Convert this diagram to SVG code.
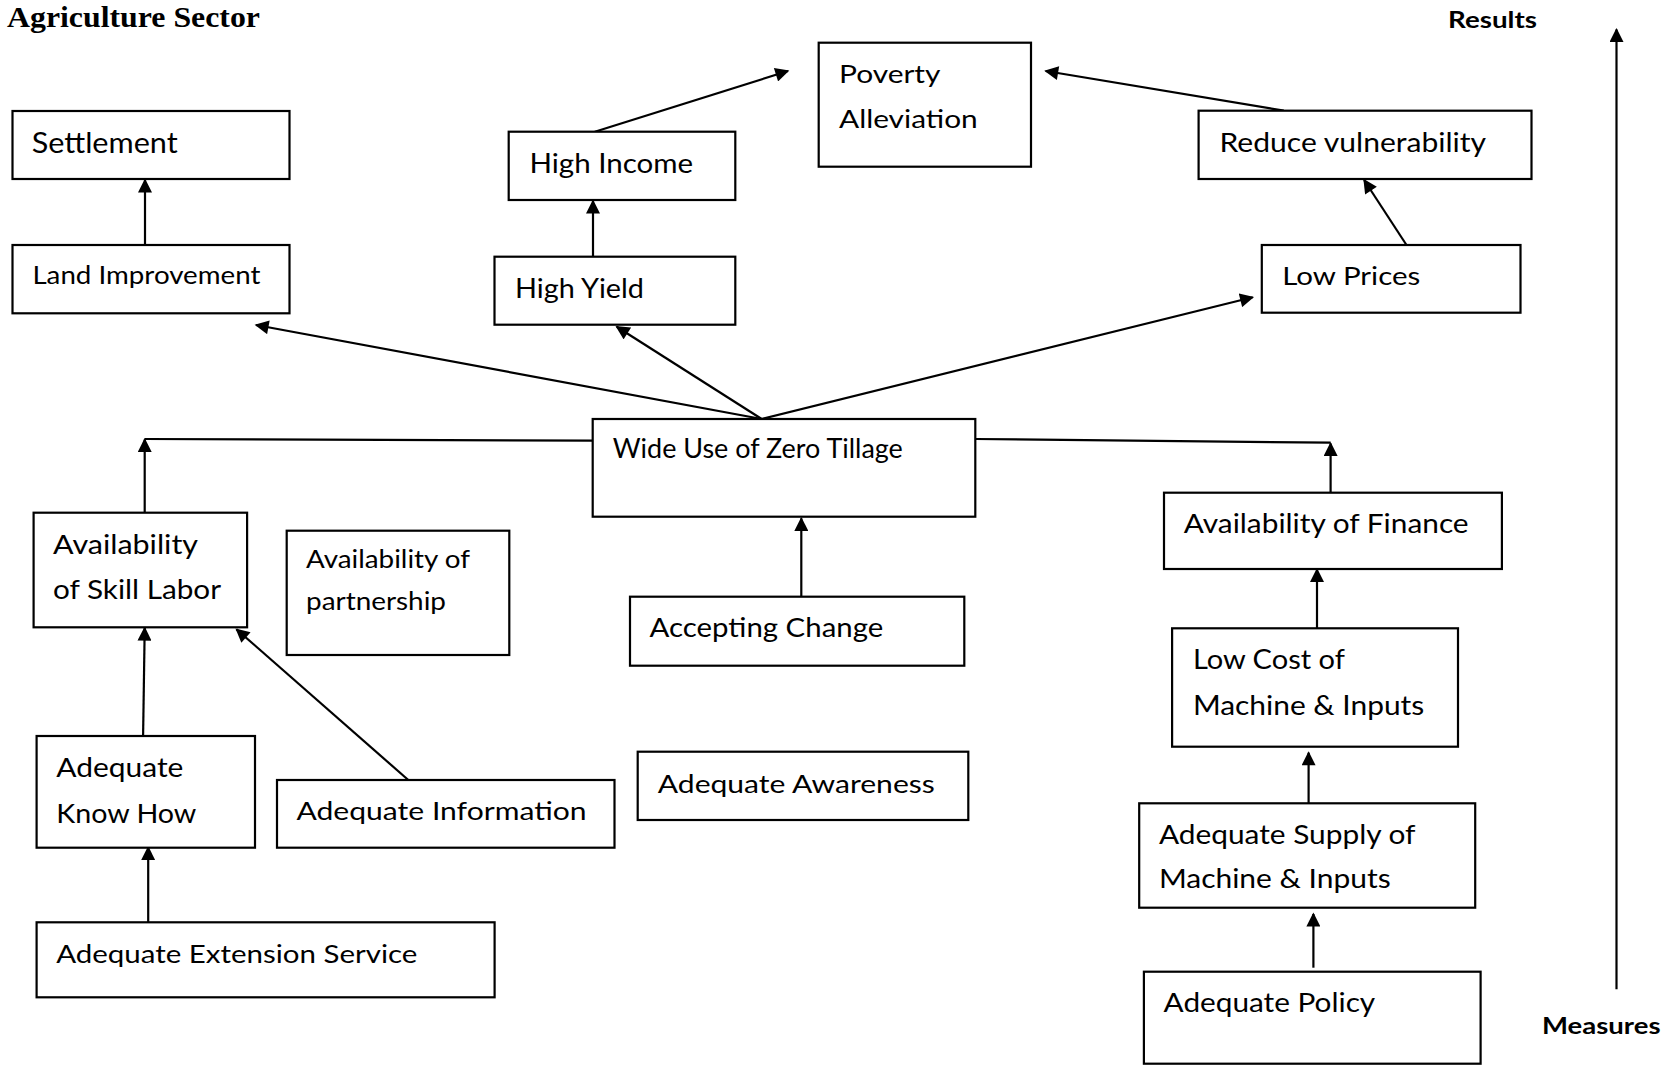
<svg xmlns="http://www.w3.org/2000/svg" width="1674" height="1065" viewBox="0 0 1674 1065">
  <style>
    .box { fill: #ffffff; stroke: #000000; stroke-width: 2.2; }
    .lbl { font-family: Lato, "Open Sans", "Liberation Sans", sans-serif; fill: #000000; }
    .axis { font-family: Lato, "Liberation Sans", sans-serif; font-weight: 700; font-size: 23px; fill: #000000; }
    .title { font-family: "Liberation Serif", "Times New Roman", serif; font-weight: 700; font-size: 29.5px; fill: #000000; }
    .link { fill: none; stroke: #000000; stroke-width: 2.2; }
    .arrow { marker-end: url(#head); }
  </style>
  <defs>
    <marker id="head" markerUnits="userSpaceOnUse" viewBox="0 0 10 10" refX="9" refY="5" markerWidth="15" markerHeight="14" orient="auto">
      <path d="M0,0 L10,5 L0,10 z" fill="#000000"/>
    </marker>
  </defs>
  <rect width="1674" height="1065" fill="#ffffff"/>

  <text class="title" x="7" y="27" textLength="253" lengthAdjust="spacingAndGlyphs">Agriculture Sector</text>
  <text class="axis" x="1448" y="28.3" textLength="89" lengthAdjust="spacingAndGlyphs">Results</text>
  <text class="axis" x="1542" y="1034" textLength="118.5" lengthAdjust="spacingAndGlyphs">Measures</text>

  <!-- connectors -->
  <g id="connectors">
    <!-- results / measures axis -->
    <line class="link arrow" x1="1616.5" y1="989.3" x2="1616.5" y2="29.5"/>
    <!-- top tier -->
    <line class="link arrow" x1="145" y1="245" x2="145" y2="180"/>
    <line class="link arrow" x1="593" y1="256.7" x2="593" y2="201"/>
    <line class="link arrow" x1="594.8" y1="131.7" x2="788" y2="71"/>
    <line class="link arrow" x1="1283.8" y1="110.7" x2="1045.6" y2="71"/>
    <line class="link arrow" x1="1406.5" y1="245" x2="1364.1" y2="180"/>
    <!-- fan out of Wide Use of Zero Tillage -->
    <line class="link arrow" x1="761.7" y1="419" x2="256" y2="325"/>
    <line class="link arrow" x1="761.7" y1="419" x2="616.7" y2="326.7"/>
    <line class="link arrow" x1="761.7" y1="419" x2="1252.7" y2="297.3"/>
    <!-- side branches -->
    <polyline class="link" points="592.7,440.7 144.7,439"/>
    <line class="link arrow" x1="144.7" y1="512.7" x2="144.7" y2="439.5"/>
    <polyline class="link" points="975.3,439 1330.6,442.7"/>
    <line class="link arrow" x1="1330.6" y1="492.7" x2="1330.6" y2="443.5"/>
    <line class="link arrow" x1="801.3" y1="596.7" x2="801.3" y2="518.3"/>
    <!-- left column -->
    <line class="link arrow" x1="143.1" y1="736" x2="144.7" y2="628"/>
    <line class="link arrow" x1="408.3" y1="780" x2="236.5" y2="629.3"/>
    <line class="link arrow" x1="148.2" y1="922.3" x2="148.2" y2="847.5"/>
    <!-- right column -->
    <line class="link arrow" x1="1317" y1="628.3" x2="1317" y2="569.5"/>
    <line class="link arrow" x1="1308.6" y1="803.3" x2="1308.6" y2="752.7"/>
    <line class="link arrow" x1="1313.4" y1="967.7" x2="1313.4" y2="914"/>
  </g>

  <g id="settlement">
    <rect class="box" x="12.5" y="111" width="277" height="68"/>
    <text class="lbl" x="31.7" y="153" font-size="29.3" textLength="146" lengthAdjust="spacingAndGlyphs">Settlement</text>
  </g>
  <g id="land-improvement">
    <rect class="box" x="12.5" y="245" width="277" height="68.3"/>
    <text class="lbl" x="32.4" y="284" font-size="24.2" textLength="228" lengthAdjust="spacingAndGlyphs">Land Improvement</text>
  </g>
  <g id="high-income">
    <rect class="box" x="508.7" y="131.7" width="226.6" height="68.3"/>
    <text class="lbl" x="529.4" y="172.7" font-size="27" textLength="163.7" lengthAdjust="spacingAndGlyphs">High Income</text>
  </g>
  <g id="high-yield">
    <rect class="box" x="494.5" y="256.7" width="240.8" height="68"/>
    <text class="lbl" x="515" y="297.7" font-size="27" textLength="129" lengthAdjust="spacingAndGlyphs">High Yield</text>
  </g>
  <g id="poverty-alleviation">
    <rect class="box" x="818.7" y="42.7" width="212.3" height="124"/>
    <text class="lbl" x="839" y="83.3" font-size="25.6" textLength="101.5" lengthAdjust="spacingAndGlyphs">Poverty</text>
    <text class="lbl" x="839" y="128.3" font-size="25.6" textLength="138.7" lengthAdjust="spacingAndGlyphs">Alleviation</text>
  </g>
  <g id="reduce-vulnerability">
    <rect class="box" x="1198.6" y="110.7" width="332.9" height="68.3"/>
    <text class="lbl" x="1219.5" y="151.7" font-size="26.5" textLength="266.6" lengthAdjust="spacingAndGlyphs">Reduce vulnerability</text>
  </g>
  <g id="low-prices">
    <rect class="box" x="1261.8" y="245" width="258.7" height="67.7"/>
    <text class="lbl" x="1282.3" y="285" font-size="25.6" textLength="138" lengthAdjust="spacingAndGlyphs">Low Prices</text>
  </g>
  <g id="wide-use-zero-tillage">
    <rect class="box" x="592.7" y="419" width="382.6" height="97.7"/>
    <text class="lbl" x="612.8" y="458.3" font-size="26" textLength="290" lengthAdjust="spacingAndGlyphs">Wide Use of Zero Tillage</text>
  </g>
  <g id="skill-labor">
    <rect class="box" x="33.6" y="512.7" width="213.5" height="114.6"/>
    <text class="lbl" x="53" y="554" font-size="26.5" textLength="145" lengthAdjust="spacingAndGlyphs">Availability</text>
    <text class="lbl" x="53" y="599" font-size="26.5" textLength="168" lengthAdjust="spacingAndGlyphs">of Skill Labor</text>
  </g>
  <g id="partnership">
    <rect class="box" x="286.7" y="530.7" width="222.6" height="124.3"/>
    <text class="lbl" x="306" y="568.3" font-size="24.2" textLength="164" lengthAdjust="spacingAndGlyphs">Availability of</text>
    <text class="lbl" x="306" y="610" font-size="24.2" textLength="140" lengthAdjust="spacingAndGlyphs">partnership</text>
  </g>
  <g id="accepting-change">
    <rect class="box" x="630" y="596.7" width="334.3" height="69"/>
    <text class="lbl" x="649.5" y="637.3" font-size="26.5" textLength="233.7" lengthAdjust="spacingAndGlyphs">Accepting Change</text>
  </g>
  <g id="finance">
    <rect class="box" x="1164" y="492.7" width="337.9" height="76.3"/>
    <text class="lbl" x="1183.8" y="533.3" font-size="26.5" textLength="284.8" lengthAdjust="spacingAndGlyphs">Availability of Finance</text>
  </g>
  <g id="low-cost">
    <rect class="box" x="1172.1" y="628.3" width="285.9" height="118.4"/>
    <text class="lbl" x="1192.9" y="669.3" font-size="26" textLength="152" lengthAdjust="spacingAndGlyphs">Low Cost of</text>
    <text class="lbl" x="1192.9" y="715" font-size="26" textLength="231.4" lengthAdjust="spacingAndGlyphs">Machine &amp; Inputs</text>
  </g>
  <g id="know-how">
    <rect class="box" x="36.6" y="736" width="218.4" height="111.7"/>
    <text class="lbl" x="56.2" y="777.3" font-size="26.5" textLength="127.2" lengthAdjust="spacingAndGlyphs">Adequate</text>
    <text class="lbl" x="56.2" y="822.7" font-size="26.5" textLength="140.2" lengthAdjust="spacingAndGlyphs">Know How</text>
  </g>
  <g id="information">
    <rect class="box" x="277" y="780" width="337.5" height="67.7"/>
    <text class="lbl" x="296.5" y="820" font-size="25.6" textLength="290" lengthAdjust="spacingAndGlyphs">Adequate Information</text>
  </g>
  <g id="awareness">
    <rect class="box" x="637.7" y="751.7" width="330.6" height="68.3"/>
    <text class="lbl" x="657.8" y="793.3" font-size="25.6" textLength="277" lengthAdjust="spacingAndGlyphs">Adequate Awareness</text>
  </g>
  <g id="extension-service">
    <rect class="box" x="36.6" y="922.3" width="458" height="75"/>
    <text class="lbl" x="56.2" y="963.3" font-size="25.6" textLength="361.2" lengthAdjust="spacingAndGlyphs">Adequate Extension Service</text>
  </g>
  <g id="supply">
    <rect class="box" x="1139.2" y="803.3" width="336" height="104.4"/>
    <text class="lbl" x="1158.9" y="844" font-size="26.5" textLength="256.6" lengthAdjust="spacingAndGlyphs">Adequate Supply of</text>
    <text class="lbl" x="1158.9" y="888.3" font-size="26.5" textLength="231.8" lengthAdjust="spacingAndGlyphs">Machine &amp; Inputs</text>
  </g>
  <g id="policy">
    <rect class="box" x="1143.9" y="971.7" width="336.7" height="92"/>
    <text class="lbl" x="1163.6" y="1011.7" font-size="26.5" textLength="211.6" lengthAdjust="spacingAndGlyphs">Adequate Policy</text>
  </g>
</svg>
